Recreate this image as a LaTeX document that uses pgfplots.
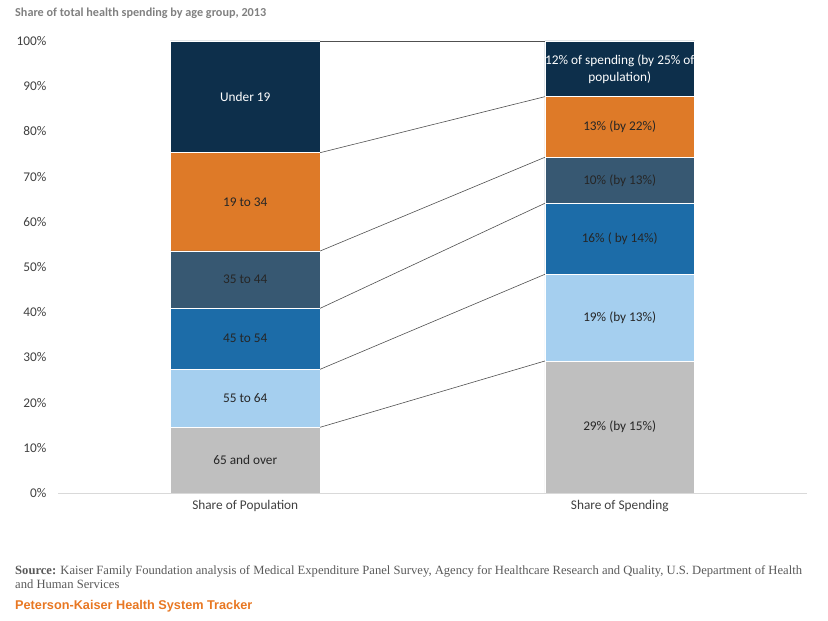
\documentclass[border=0pt]{standalone}
\usepackage{pgfplots}
\pgfplotsset{compat=1.18}
\usepackage{fontspec}
\setmainfont{Carlito}
\newfontfamily\srcfont{Liberation Serif}
\newfontfamily\trkfont{Liberation Sans}

\definecolor{cnavy}{HTML}{0D2F4B}
\definecolor{corange}{HTML}{DE7A28}
\definecolor{cslate}{HTML}{375872}
\definecolor{cblue}{HTML}{1C6CA8}
\definecolor{clight}{HTML}{A5CFEF}
\definecolor{cgray}{HTML}{BFBFBF}
\definecolor{txtdark}{HTML}{262626}
\definecolor{ticktxt}{HTML}{404040}
\definecolor{titlegray}{HTML}{808080}
\definecolor{srcgray}{HTML}{595959}
\definecolor{trkorange}{HTML}{E87722}
\definecolor{connline}{HTML}{505050}

\begin{document}
\begin{tikzpicture}
\path[use as bounding box] (0,0) rectangle (828pt,621pt);
\pgfplotsset{
  base/.style={
    scale only axis, width=749pt, height=452pt,
    at={(58pt,128pt)}, anchor=south west,
    xmin=-0.5, xmax=1.5, ymin=0, ymax=100,
  },
  seg/.style={fill=#1, draw=white, line width=0.4pt},
  conn/.style={draw=connline, line width=0.6pt, mark=none, solid},
}
% stacked bars
\begin{axis}[base,
  ybar stacked, bar width=0.4,
  axis x line*=bottom, axis y line*=left,
  x axis line style={draw=black!15, line width=0.8pt},
  y axis line style={draw=none},
  xtick={0,1}, xticklabels={Share of Population, Share of Spending},
  ytick={0,10,...,100},
  yticklabel={\pgfmathprintnumber{\tick}\%},
  /pgf/number format/assume math mode=true,
  tick style={draw=none},
  ticklabel style={font=\fontsize{13.3}{16}\selectfont, text=ticktxt},
  yticklabel style={xshift=-8pt},
  xticklabel style={yshift=-4pt},
]
\addplot[seg=cgray]   coordinates {(0,14.54) (1,29.20)};
\addplot[seg=clight]  coordinates {(0,12.83) (1,19.18)};
\addplot[seg=cblue]   coordinates {(0,13.49) (1,15.71)};
\addplot[seg=cslate]  coordinates {(0,12.68) (1,10.18)};
\addplot[seg=corange] coordinates {(0,21.75) (1,13.41)};
\addplot[seg=cnavy]   coordinates {(0,24.71) (1,12.32)};
\end{axis}
% connectors and labels
\begin{axis}[base, hide axis, clip=false]
\addplot[conn] coordinates {(0.2,14.54) (0.8,29.20)};
\addplot[conn] coordinates {(0.2,27.37) (0.8,48.38)};
\addplot[conn] coordinates {(0.2,40.86) (0.8,64.09)};
\addplot[conn] coordinates {(0.2,53.54) (0.8,74.27)};
\addplot[conn] coordinates {(0.2,75.29) (0.8,87.68)};
\addplot[conn] coordinates {(0.2,100) (0.8,100)};
\addplot[only marks, mark=none, nodes near coords, point meta=explicit symbolic,
  every node near coord/.append style={anchor=center, text=txtdark,
    font=\fontsize{13.3}{16}\selectfont}]
  coordinates {
  (0,7.27) [65 and over]
  (0,20.96) [55 to 64]
  (0,34.12) [45 to 54]
  (0,47.20) [35 to 44]
  (0,64.42) [19 to 34]
  (1,14.60) [29\% (by 15\%)]
  (1,38.79) [19\% (by 13\%)]
  (1,56.23) [16\% ( by 14\%)]
  (1,69.18) [10\% (by 13\%)]
  (1,80.98) [13\% (by 22\%)]
};
\addplot[only marks, mark=none, nodes near coords, point meta=explicit symbolic,
  every node near coord/.append style={anchor=center, text=white, align=center,
    font=\fontsize{13.3}{17}\selectfont}]
  coordinates {
  (0,87.65) [Under 19]
  (1,93.84) [{12\% of spending (by 25\% of\\population)}]
};
\end{axis}
\node[anchor=west, text=titlegray, font=\bfseries\fontsize{12.2}{14}\selectfont, inner sep=0pt]
  at (15pt,608pt) {Share of total health spending by age group, 2013};
\node[anchor=north west, align=left, text=srcgray, inner sep=0pt,
  font=\srcfont\fontsize{12.6}{14}\selectfont]
  at (15pt,56pt) {\textbf{Source:} Kaiser Family Foundation analysis of Medical Expenditure Panel Survey, Agency for Healthcare Research and Quality, U.S. Department of Health\\and Human Services};
\node[anchor=west, text=trkorange, inner sep=0pt, font=\trkfont\bfseries\fontsize{12.7}{15}\selectfont]
  at (15pt,15pt) {Peterson-Kaiser Health System Tracker};
\end{tikzpicture}
\end{document}
